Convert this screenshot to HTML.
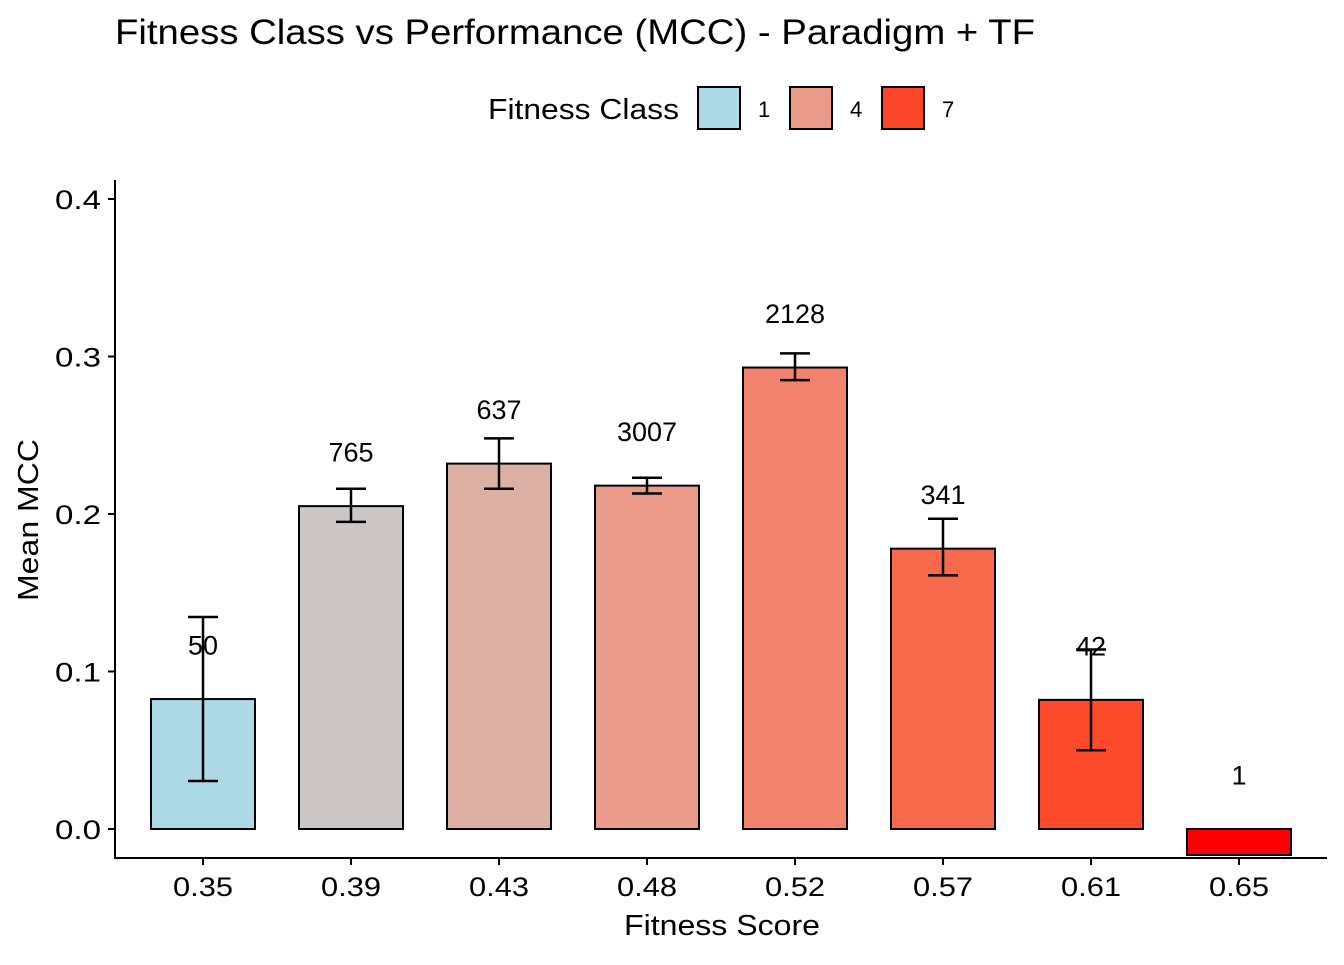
<!DOCTYPE html>
<html><head><meta charset="utf-8"><style>
body{margin:0;background:#fff;font-family:"Liberation Sans",Arial,sans-serif}
svg text{font-family:"Liberation Sans",Arial,sans-serif}
</style></head><body>
<svg id="chart" width="1344" height="960" viewBox="0 0 1344 960">
<text x="115" y="44" font-size="35" fill="#000" textLength="920" lengthAdjust="spacingAndGlyphs">Fitness Class vs Performance (MCC) - Paradigm + TF</text>
<g>
<text x="488" y="119" font-size="29" textLength="191" lengthAdjust="spacingAndGlyphs">Fitness Class</text>
<rect x="698" y="87" width="42" height="42" fill="#ADD8E6" stroke="#000" stroke-width="2"/>
<text x="758" y="117" font-size="22">1</text>
<rect x="790" y="87" width="42" height="42" fill="#EA9A88" stroke="#000" stroke-width="2"/>
<text x="850" y="117" font-size="22">4</text>
<rect x="882" y="87" width="42" height="42" fill="#FD452B" stroke="#000" stroke-width="2"/>
<text x="942" y="117" font-size="22">7</text>
</g>
<g id="plot"></g>
<text x="722" y="935" font-size="29" text-anchor="middle" textLength="196" lengthAdjust="spacingAndGlyphs">Fitness Score</text>
<text transform="translate(38,520) rotate(-90)" font-size="29" text-anchor="middle" textLength="162" lengthAdjust="spacingAndGlyphs">Mean MCC</text>
</svg>
<script>
const categories=["0.35","0.39","0.43","0.48","0.52","0.57","0.61","0.65"];
const means=[0.0825,0.205,0.232,0.218,0.293,0.178,0.082,-0.0165];
const errLow=[0.0305,0.195,0.216,0.213,0.285,0.161,0.050,null];
const errHigh=[0.1346,0.216,0.248,0.223,0.302,0.197,0.114,null];
const counts=["50","765","637","3007","2128","341","42","1"];
const colors=["#ADD8E6","#CCC6C6","#DDB0A5","#EA9A88","#F2846D","#F7694B","#FD4A2B","#FF0000"];
const yTicks=[0,0.1,0.2,0.3,0.4];
const NS="http://www.w3.org/2000/svg";
const g=document.getElementById('plot');
const y=v=>829-v*1575;
const x=i=>203+i*148;
function mk(t,a,p){const e=document.createElementNS(NS,t);for(const k in a)e.setAttribute(k,a[k]);(p||g).appendChild(e);return e;}
let ax=mk('line',{x1:115,y1:180,x2:115,y2:859,stroke:'#000','stroke-width':2});


let bx=mk('line',{x1:114,y1:858,x2:1327,y2:858,stroke:'#000','stroke-width':2});


yTicks.forEach(t=>{
 const tk=mk('line',{x1:108,x2:115,y1:y(t),y2:y(t),stroke:'#000','stroke-width':2});
 
 
 const tl=mk('text',{x:101,y:y(t)+10,'font-size':27,'text-anchor':'end',fill:'#000',textLength:46,lengthAdjust:'spacingAndGlyphs'});
 tl.textContent=t.toFixed(1);
 
 
});
categories.forEach((c,i)=>{
 const v=means[i];
 const r=mk('rect',{x:x(i)-52,y:Math.min(y(v),y(0)),width:104,height:Math.abs(y(v)-y(0)),fill:colors[i],stroke:'#000','stroke-width':2});
 
 
 if(errLow[i]!==null){
  const eg=mk('g',{stroke:'#000','stroke-width':2.5});
  
  
  mk('line',{x1:x(i),x2:x(i),y1:y(errLow[i]),y2:y(errHigh[i])},eg);
  mk('line',{x1:x(i)-15,x2:x(i)+15,y1:y(errLow[i]),y2:y(errLow[i])},eg);
  mk('line',{x1:x(i)-15,x2:x(i)+15,y1:y(errHigh[i]),y2:y(errHigh[i])},eg);
 }
 const lb=mk('text',{x:x(i),y:y(Math.max(v,0)+0.034)+9,'font-size':27,'text-anchor':'middle'});
 lb.textContent=counts[i];
 
 
 const tk=mk('line',{x1:x(i),x2:x(i),y1:858,y2:865,stroke:'#000','stroke-width':2});
 
 
 const tl=mk('text',{x:x(i),y:896,'font-size':27,'text-anchor':'middle',fill:'#000',textLength:60,lengthAdjust:'spacingAndGlyphs'});
 tl.textContent=c;
 
 
});
</script>
</body></html>
